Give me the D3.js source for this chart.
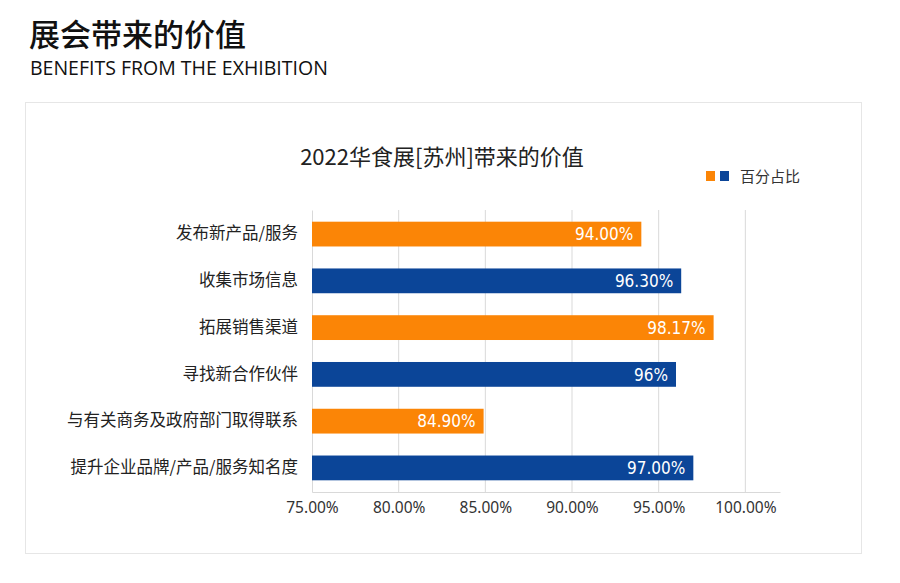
<!DOCTYPE html>
<html>
<head>
<meta charset="utf-8">
<script src="https://cdn.jsdelivr.net/npm/d3@7"></script>
<style>
  body { margin: 0; background: #fff; font-family: "Noto Sans CJK SC", "Noto Sans", sans-serif; }
</style>
</head>
<body>
<div id="chart"></div>
<script>
// chart data
const categories = ["发布新产品/服务", "收集市场信息", "拓展销售渠道", "寻找新合作伙伴", "与有关商务及政府部门取得联系", "提升企业品牌/产品/服务知名度"];
const values = [94.00, 96.30, 98.17, 96, 84.90, 97.00];
const valueLabels = ["94.00%", "96.30%", "98.17%", "96%", "84.90%", "97.00%"];
const tickValues = [75, 80, 85, 90, 95, 100];
const tickLabels = ["75.00%", "80.00%", "85.00%", "90.00%", "95.00%", "100.00%"];
const barColors = ["#fb8506", "#0b4598"];

const W = 900, H = 583;
const svg = d3.select("#chart")
              .append("svg")
              .attr("width", W)
              .attr("height", H);

// page heading
svg.append("text")
    .attr("x", 29).attr("y", 46)
    .style("font-size", "31px")
    .style("font-weight", "500")
    .attr("fill", "#111")
    .text("展会带来的价值");
svg.append("text")
    .attr("x", 30).attr("y", 75)
    .style("font-family", "'Open Sans', 'Noto Sans', sans-serif")
    .style("font-size", "19.5px")
    .attr("fill", "#111")
    .text("BENEFITS FROM THE EXHIBITION");

// card
svg.append("rect")
    .attr("x", 25.5).attr("y", 102.5)
    .attr("width", 836).attr("height", 451)
    .attr("fill", "#fff")
    .attr("stroke", "#e6e6e6");

svg.append("text")
    .attr("x", 442).attr("y", 165)
    .attr("text-anchor", "middle")
    .style("font-size", "22px")
    .attr("fill", "#222")
    .text("2022华食展[苏州]带来的价值");

// legend
svg.selectAll(".leg")
    .data(barColors)
    .join("rect")
    .attr("x", (d, i) => 706 + i * 14)
    .attr("y", 171)
    .attr("width", 9).attr("height", 10)
    .attr("fill", d => d);
svg.append("text")
    .attr("x", 740).attr("y", 182)
    .style("font-size", "15px")
    .attr("fill", "#333")
    .text("百分占比");

// plot area
const margin = {left: 312, top: 210, right: 120, bottom: 91};
const x = d3.scaleLinear()
            .domain([75, 102])
            .range([margin.left, W - margin.right]);
const y = d3.scaleBand()
            .domain(categories)
            .range([margin.top, H - margin.bottom])
            .paddingInner(0.47)
            .paddingOuter(0.25);

const g = svg.append("g");

// gridlines
g.selectAll(".grid")
  .data(tickValues.slice(1))
  .join("line")
  .attr("x1", d => x(d)).attr("x2", d => x(d))
  .attr("y1", margin.top).attr("y2", H - margin.bottom)
  .attr("stroke", "#d9d9d9");

// x axis
const xAxis = g.append("g")
  .attr("transform", `translate(0,${H - margin.bottom})`)
  .call(d3.axisBottom(x).tickValues(tickValues).tickSize(0).tickPadding(10)
          .tickFormat((d, i) => tickLabels[i]));
xAxis.select(".domain").attr("stroke", "#d9d9d9");
xAxis.selectAll("text")
  .style("font-family", "'Noto Sans', sans-serif")
  .style("font-size", "15.5px")
  .attr("fill", "#333");

// y axis
const yAxis = g.append("g")
  .attr("transform", `translate(${margin.left},0)`)
  .call(d3.axisLeft(y).tickSize(0).tickPadding(14));
yAxis.select(".domain").attr("stroke", "#d9d9d9");
yAxis.selectAll("text")
  .style("font-family", "'Noto Sans CJK SC', sans-serif")
  .style("font-size", "16.5px")
  .attr("fill", "#222");

// bars
g.selectAll(".bar")
  .data(categories)
  .join("rect")
  .attr("x", x(75))
  .attr("y", d => y(d))
  .attr("width", (d, i) => x(values[i]) - x(75))
  .attr("height", y.bandwidth())
  .attr("fill", (d, i) => barColors[i % 2]);

// value labels
g.selectAll(".val")
  .data(categories)
  .join("text")
  .attr("x", (d, i) => x(values[i]) - 8)
  .attr("y", d => y(d) + y.bandwidth() / 2)
  .attr("dy", "0.36em")
  .attr("text-anchor", "end")
  .style("font-family", "'DejaVu Sans Condensed', 'Roboto', sans-serif")
  .style("font-size", "17px")
  .attr("fill", "#fff")
  .text((d, i) => valueLabels[i]);
</script>
</body>
</html>
